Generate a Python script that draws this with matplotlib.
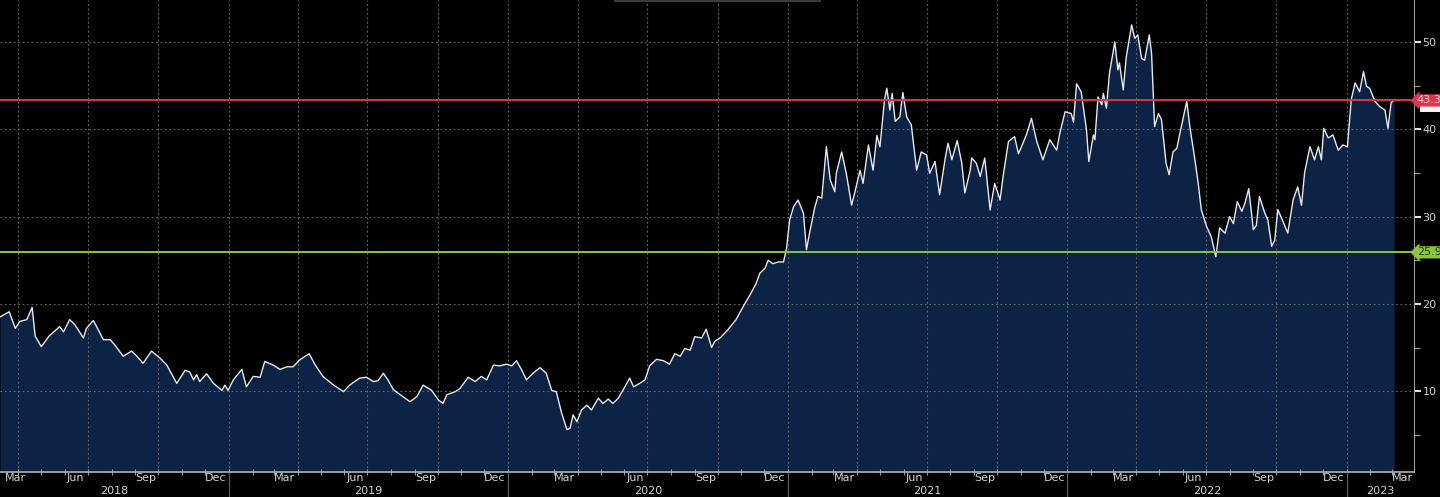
import matplotlib
matplotlib.use('Agg')
import matplotlib.pyplot as plt
import matplotlib.dates as mdates
import matplotlib.transforms as mtransforms
from matplotlib.lines import Line2D
from matplotlib.patches import Rectangle
import pandas as pd

# series
dates = [
    '2018-03-08', '2018-03-20', '2018-03-28', '2018-04-03', '2018-04-12', '2018-04-19', '2018-04-23',
    '2018-05-01', '2018-05-11', '2018-05-25', '2018-05-30', '2018-06-07', '2018-06-14', '2018-06-25',
    '2018-06-29', '2018-07-08', '2018-07-17', '2018-07-21', '2018-07-30', '2018-08-05', '2018-08-16',
    '2018-08-27', '2018-09-03', '2018-09-11', '2018-09-22', '2018-10-03', '2018-10-12', '2018-10-25',
    '2018-11-05', '2018-11-11', '2018-11-16', '2018-11-20', '2018-11-24', '2018-12-03', '2018-12-12',
    '2018-12-23', '2018-12-27', '2018-12-31',
    '2019-01-07', '2019-01-18', '2019-01-24', '2019-02-02', '2019-02-11', '2019-02-17', '2019-02-28',
    '2019-03-09', '2019-03-18', '2019-03-26', '2019-04-04', '2019-04-16', '2019-04-24', '2019-05-04',
    '2019-05-18', '2019-05-31', '2019-06-08', '2019-06-21', '2019-06-30', '2019-07-09', '2019-07-15',
    '2019-07-22', '2019-07-28', '2019-08-04', '2019-08-13', '2019-08-26', '2019-09-04', '2019-09-12',
    '2019-09-23', '2019-10-02', '2019-10-08', '2019-10-13', '2019-10-24', '2019-10-30', '2019-11-10',
    '2019-11-19', '2019-11-27', '2019-12-04', '2019-12-13', '2019-12-21', '2019-12-30',
    '2020-01-06', '2020-01-12', '2020-01-19', '2020-01-25', '2020-02-03', '2020-02-12', '2020-02-20',
    '2020-02-27', '2020-03-04', '2020-03-11', '2020-03-18', '2020-03-22', '2020-03-26', '2020-03-31',
    '2020-04-06', '2020-04-13', '2020-04-19', '2020-04-28', '2020-05-04', '2020-05-11', '2020-05-17',
    '2020-05-24', '2020-05-30', '2020-06-08', '2020-06-13', '2020-06-21', '2020-06-28', '2020-07-04',
    '2020-07-13', '2020-07-22', '2020-07-30', '2020-08-06', '2020-08-13', '2020-08-19', '2020-08-26',
    '2020-09-01', '2020-09-10', '2020-09-16', '2020-09-23', '2020-09-27', '2020-10-04', '2020-10-14',
    '2020-10-25', '2020-11-04', '2020-11-12', '2020-11-20', '2020-11-25', '2020-12-02', '2020-12-06',
    '2020-12-12', '2020-12-19', '2020-12-26', '2020-12-30',
    '2021-01-03', '2021-01-08', '2021-01-14', '2021-01-21', '2021-01-25', '2021-01-29', '2021-02-05',
    '2021-02-09', '2021-02-14', '2021-02-20', '2021-02-25', '2021-03-03', '2021-03-05', '2021-03-12',
    '2021-03-18', '2021-03-25', '2021-03-29', '2021-04-05', '2021-04-09', '2021-04-16', '2021-04-22',
    '2021-04-27', '2021-05-01', '2021-05-07', '2021-05-10', '2021-05-14', '2021-05-17', '2021-05-21',
    '2021-05-27', '2021-05-31', '2021-06-05', '2021-06-11', '2021-06-18', '2021-06-24', '2021-07-01',
    '2021-07-05', '2021-07-12', '2021-07-18', '2021-07-25', '2021-07-29', '2021-08-03', '2021-08-10',
    '2021-08-16', '2021-08-20', '2021-08-27', '2021-08-29', '2021-09-04', '2021-09-09', '2021-09-15',
    '2021-09-22', '2021-09-28', '2021-10-05', '2021-10-09', '2021-10-16', '2021-10-24', '2021-10-29',
    '2021-11-04', '2021-11-09', '2021-11-15', '2021-11-22', '2021-11-30', '2021-12-09', '2021-12-18',
    '2021-12-22', '2021-12-29',
    '2022-01-06', '2022-01-09', '2022-01-13', '2022-01-19', '2022-01-26', '2022-01-29', '2022-02-04',
    '2022-02-06', '2022-02-10', '2022-02-15', '2022-02-17', '2022-02-21', '2022-02-25', '2022-03-04',
    '2022-03-08', '2022-03-10', '2022-03-15', '2022-03-19', '2022-03-26', '2022-03-30', '2022-04-03',
    '2022-04-08', '2022-04-12', '2022-04-18', '2022-04-21', '2022-04-25', '2022-04-30', '2022-05-04',
    '2022-05-10', '2022-05-14', '2022-05-19', '2022-05-24', '2022-05-28', '2022-06-06', '2022-06-10',
    '2022-06-16', '2022-06-21', '2022-06-25', '2022-07-02', '2022-07-08', '2022-07-14', '2022-07-19',
    '2022-07-26', '2022-08-01', '2022-08-06', '2022-08-11', '2022-08-17', '2022-08-21', '2022-08-26',
    '2022-09-01', '2022-09-05', '2022-09-09', '2022-09-16', '2022-09-20', '2022-09-25', '2022-09-29',
    '2022-10-03', '2022-10-10', '2022-10-16', '2022-10-23', '2022-10-29', '2022-11-03', '2022-11-07',
    '2022-11-14', '2022-11-20', '2022-11-25', '2022-11-29', '2022-12-02', '2022-12-08', '2022-12-14',
    '2022-12-21', '2022-12-27',
    '2023-01-02', '2023-01-07', '2023-01-12', '2023-01-18', '2023-01-23', '2023-01-27', '2023-01-31',
    '2023-02-07', '2023-02-13', '2023-02-20', '2023-02-24', '2023-02-28', '2023-03-04',
]
values = [
    18.5, 19.1, 17.2, 18.0, 18.2, 19.6, 16.3, 15.1, 16.3, 17.4, 16.8, 18.2, 17.6, 16.1,
    17.2, 18.1, 16.6, 15.9, 15.9, 15.3, 14.0, 14.6, 14.0, 13.2, 14.6, 13.8, 13.0, 10.9,
    12.4, 12.2, 11.3, 11.9, 11.1, 12.0, 10.9, 10.1, 10.7, 10.1,
    11.3, 12.5, 10.5, 11.7, 11.6, 13.4, 13.0, 12.5, 12.8, 12.8, 13.6, 14.3, 13.0, 11.7,
    10.7, 9.95, 10.7, 11.5, 11.6, 11.1, 11.2, 12.05, 11.3, 10.2, 9.6, 8.8, 9.4, 10.7,
    10.1, 9.0, 8.6, 9.6, 9.95, 10.3, 11.6, 11.1, 11.7, 11.3, 13.0, 12.9, 13.1,
    12.9, 13.5, 12.4, 11.3, 12.1, 12.7, 12.05, 10.1, 9.95, 7.5, 5.6, 5.75, 7.3, 6.5,
    7.85, 8.4, 7.85, 9.2, 8.6, 9.1, 8.6, 9.2, 10.1, 11.5, 10.5, 10.9, 11.3, 12.9,
    13.65, 13.5, 13.1, 14.3, 14.0, 14.9, 14.7, 16.25, 16.1, 17.1, 15.0, 15.7, 16.1, 17.0,
    18.2, 19.8, 21.0, 22.3, 23.5, 24.1, 25.0, 24.6, 24.8, 24.8, 26.4,
    29.6, 31.1, 31.9, 30.4, 26.2, 28.1, 31.1, 32.3, 32.1, 38.0, 34.2, 32.85, 34.95, 37.4,
    34.95, 31.3, 32.7, 35.3, 33.8, 38.2, 35.3, 39.3, 38.0, 43.35, 44.7, 42.2, 44.1, 40.9,
    41.4, 44.2, 41.4, 40.5, 35.3, 37.4, 37.05, 34.95, 36.3, 32.5, 36.5, 38.4, 36.5, 38.7,
    36.1, 32.7, 35.3, 36.7, 36.1, 34.6, 36.7, 30.75, 33.8, 31.9, 34.6, 38.6, 39.15, 37.2,
    38.4, 39.5, 41.25, 38.6, 36.5, 38.8, 37.6, 39.5, 42.0,
    41.8, 40.8, 45.2, 44.3, 39.9, 36.3, 39.35, 38.8, 43.7, 42.8, 44.1, 42.4, 46.4, 50.0,
    46.8, 47.6, 44.5, 48.3, 51.95, 50.4, 50.8, 48.1, 47.9, 50.8, 48.7, 40.3, 41.8, 41.1,
    36.1, 34.8, 37.4, 37.8, 39.5, 43.2, 40.3, 36.9, 33.8, 30.8, 28.85, 27.7, 25.4, 28.7,
    28.1, 30.0, 29.2, 31.7, 30.6, 31.5, 33.2, 28.5, 29.0, 32.3, 30.4, 29.6, 26.6, 27.3,
    30.8, 29.4, 28.1, 31.9, 33.4, 31.3, 35.0, 38.0, 36.5, 38.0, 36.5, 40.1, 39.0, 39.35,
    37.6, 38.2,
    38.0, 43.4, 45.3, 44.3, 46.6, 44.9, 44.7, 43.2, 42.6, 42.2, 40.1, 43.0, 43.4,
]

level_high = 43.3
level_low = 25.9
x_start, x_end = '2018-03-08', '2023-03-30'
y_min, y_max = 0.75, 54.8
y_major = [10, 20, 30, 40, 50]
y_minor = [5, 15, 25, 35, 45]
years = [2018, 2019, 2020, 2021, 2022, 2023]

BG = '#000000'
FILL = '#0c2346'
LINE = '#e4eaf2'
GRID = '#6a6a6a'
AXIS = '#9a9a9a'
TXT = '#d2d2d2'
RED = '#e5304b'
GREEN = '#8cc63f'

plt.rcParams['font.family'] = ['DejaVu Sans Condensed', 'Liberation Sans Narrow', 'DejaVu Sans']
FS = 8

t = pd.to_datetime(dates)
x0, x1 = pd.Timestamp(x_start), pd.Timestamp(x_end)

fig = plt.figure(figsize=(14.4, 4.97), dpi=100, facecolor=BG)
ax = fig.add_axes([0, 25 / 497, 1414 / 1440, 472 / 497], facecolor=BG)

ax.fill_between(t, values, 0, color=FILL, lw=0, zorder=1)
ax.plot(t, values, color=LINE, lw=1.0, zorder=4)

ax.axhline(level_high, color=RED, lw=1.4, zorder=5)
ax.axhline(level_low, color=GREEN, lw=1.4, zorder=5)

ax.set_xlim(x0, x1)
ax.set_ylim(y_min, y_max)

# grid: horizontal at labelled values, vertical at quarter starts
for v in y_major:
    ax.axhline(v, color=GRID, lw=0.8, ls=(0, (1.5, 2.5)), zorder=2)
for q in pd.date_range('2018-04-01', '2023-01-01', freq='QS'):
    ax.axvline(q, color=GRID, lw=0.8, ls=(0, (1.5, 2.5)), zorder=2)

for s in ['left', 'top']:
    ax.spines[s].set_visible(False)
ax.spines['right'].set_color(AXIS)
ax.spines['bottom'].set_color('#b0b0b0')
ax.spines['bottom'].set_linewidth(1.2)

# x axis: monthly tick marks, labels mid-month each quarter
ax.xaxis.set_major_locator(mdates.MonthLocator())
ax.xaxis.set_major_formatter(plt.NullFormatter())
ax.xaxis.set_minor_locator(mdates.MonthLocator(bymonth=(3, 6, 9, 12), bymonthday=15))
ax.xaxis.set_minor_formatter(mdates.DateFormatter('%b'))
ax.tick_params(axis='x', which='major', direction='inout', length=4, width=0.8, color=AXIS)
ax.tick_params(axis='x', which='minor', length=0, pad=1, labelsize=FS, labelcolor=TXT)

# y axis on the right
ax.yaxis.tick_right()
ax.set_yticks(y_major)
ax.set_yticks(y_minor, minor=True)
ax.tick_params(axis='y', which='major', direction='out', length=5, width=1.5, color='#e0e0e0',
               pad=1, labelsize=FS, labelcolor=TXT)
ax.tick_params(axis='y', which='minor', direction='out', length=4, width=0.8, color=AXIS)

# year row under the months
trans = mtransforms.blended_transform_factory(ax.transData, ax.transAxes)
for y in years:
    a = max(pd.Timestamp(f'{y}-01-01'), x0)
    b = min(pd.Timestamp(f'{y + 1}-01-01'), x1)
    ax.text(a + (b - a) / 2, -0.040, str(y), transform=trans, ha='center', va='center',
            fontsize=FS, color=TXT, clip_on=False)
    if pd.Timestamp(f'{y}-01-01') > x0:
        ax.add_line(Line2D([a, a], [0, -0.06], transform=trans, color='#5a5a5a', lw=0.9,
                           clip_on=False))

# value tags on the right edge (a white last-price tag sits mostly hidden behind the red one)
ytrans = mtransforms.blended_transform_factory(ax.transAxes, ax.transData)
ax.add_patch(Rectangle((1.004, level_high - 1.35), 0.03, 1.2, transform=ytrans,
                       fc='#f2f2f2', ec='none', clip_on=False, zorder=6))
ax.annotate(f'{level_high:.1f}', xy=(1.0, level_high), xycoords=ytrans,
            xytext=(2, 0), textcoords='offset points', ha='left', va='center',
            fontsize=FS, color='#ffd6dc', annotation_clip=False, zorder=7,
            bbox=dict(boxstyle='larrow,pad=0.1', fc=RED, ec='none'))
ax.annotate(f'{level_low:.1f}', xy=(1.0, level_low), xycoords=ytrans,
            xytext=(2, 0), textcoords='offset points', ha='left', va='center',
            fontsize=FS, color='#1d3a05', annotation_clip=False, zorder=7,
            bbox=dict(boxstyle='larrow,pad=0.1', fc=GREEN, ec='none'))

# faint header remnant at the very top
fig.add_artist(Line2D([615 / 1440, 820 / 1440], [0.998, 0.998], transform=fig.transFigure,
                      color='#3a3a3a', lw=1.5))

# keep the first month label inside the left edge
fig.canvas.draw()
ax.xaxis.get_minor_ticks()[0].label1.set_horizontalalignment('left')
ax.xaxis.get_minor_ticks()[0].label1.set_x(mdates.date2num(x0))

fig.savefig('out.png', dpi=100, facecolor=BG)
